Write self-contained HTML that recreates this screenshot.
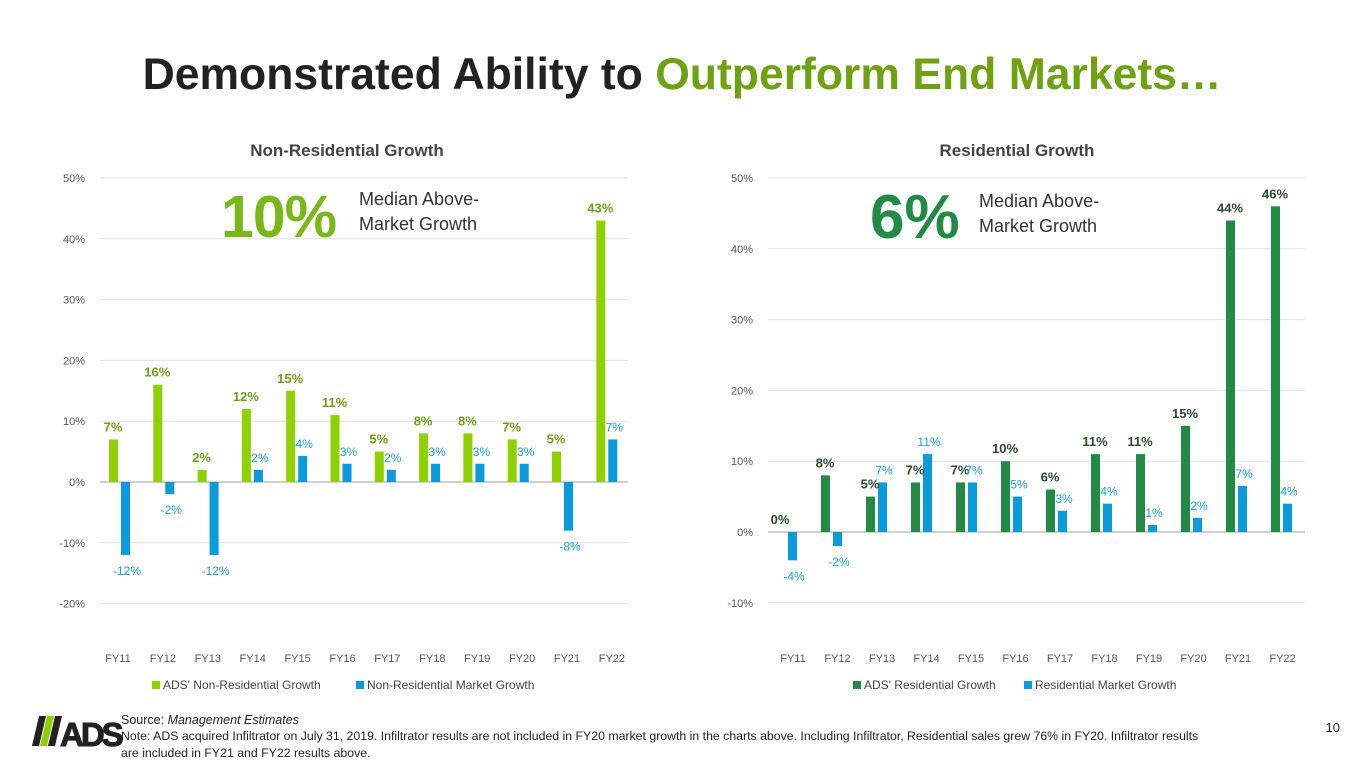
<!DOCTYPE html>
<html><head><meta charset="utf-8"><style>
body{margin:0;width:1365px;height:768px;background:#fff;font-family:"Liberation Sans",sans-serif;overflow:hidden;position:relative}
svg{position:absolute;left:0;top:0}
</style></head><body>
<svg id="s" width="1365" height="768">
<text x="682" y="89" text-anchor="middle" font-size="44.5" font-weight="bold" fill="#222">Demonstrated Ability to <tspan fill="#6ea212">Outperform End Markets…</tspan></text>
<text x="347" y="156" text-anchor="middle" font-size="17" font-weight="bold" fill="#444">Non-Residential Growth</text>
<text x="1017" y="156" text-anchor="middle" font-size="17" font-weight="bold" fill="#444">Residential Growth</text>
<text x="221" y="237" font-size="59" font-weight="bold" fill="#7bb61a" letter-spacing="-1">10%</text>
<text x="359" y="205" font-size="18" fill="#333">Median Above-</text>
<text x="359" y="230" font-size="18" fill="#333">Market Growth</text>
<text x="870" y="238" font-size="62" font-weight="bold" fill="#228a44">6%</text>
<text x="979" y="207" font-size="18" fill="#333">Median Above-</text>
<text x="979" y="232" font-size="18" fill="#333">Market Growth</text>
<g>
<polygon points="32,746 39,746 46,716 39,716" fill="#222"/><polygon points="40,746 47,746 54,716 47,716" fill="#8fce00"/><polygon points="48,746 55,746 62,716 55,716" fill="#222"/>
<text x="60" y="746" font-size="33" font-weight="bold" fill="#222" letter-spacing="-3" stroke="#222" stroke-width="1">ADS</text></g>
<text x="121" y="724" font-size="12.5" fill="#222">Source: <tspan font-style="italic">Management Estimates</tspan></text>
<text x="121" y="740" font-size="12.3" fill="#222">Note: ADS acquired Infiltrator on July 31, 2019. Infiltrator results are not included in FY20 market growth in the charts above. Including Infiltrator, Residential sales grew 76% in FY20. Infiltrator results</text>
<text x="121" y="757" font-size="12.3" fill="#222">are included in FY21 and FY22 results above.</text>
<text x="1340" y="732" text-anchor="end" font-size="13" fill="#222">10</text>
</svg>
<script>
const categories=["FY11","FY12","FY13","FY14","FY15","FY16","FY17","FY18","FY19","FY20","FY21","FY22"];
const nonResAds=[7,16,2,12,15,11,5,8,8,7,5,43];
const nonResMarket=[-12,-2,-12,2,4.3,3,2,3,3,3,-8,7];
const nonResTicks=[50,40,30,20,10,0,-10,-20];
const resAds=[0,8,5,7,7,10,6,11,11,15,44,46];
const resMarket=[-4,-2,7,11,7,5,3,4,1,2,6.5,4];
const resTicks=[50,40,30,20,10,0,-10];
const NS='http://www.w3.org/2000/svg';
const svg=document.getElementById('s');
function mk(t,a,txt){const e=document.createElementNS(NS,t);for(const k in a)e.setAttribute(k,a[k]);if(txt!=null)e.textContent=txt;svg.appendChild(e);return e;}
function chart(o){
  const y=v=>o.y0-v*o.ppu;
  o.ticks.forEach(t=>{
    const l=mk('line',{x1:o.gx1,x2:o.gx2,y1:y(t),y2:y(t),stroke:t===0?'#d0d0d0':'#e2e2e2','stroke-width':t===0?2:1});
    
    
    const tx=mk('text',{x:o.gx1-15,y:y(t)+4,'text-anchor':'end','font-size':11,fill:'#555'},t+'%');
    
    
  });
  categories.forEach((c,i)=>{
    const g=o.g0+i*o.step;
    const tx=mk('text',{x:o.lx0+i*o.lstep,y:662,'text-anchor':'middle','font-size':11,fill:'#555'},c);
    
    
    const a=o.a[i],m=o.m[i];
    const r1=mk('rect',{x:g-11,width:9,y:Math.min(y(a),y(0)),height:Math.abs(a*o.ppu),fill:o.ca});
    
    
    const r2=mk('rect',{x:g+1,width:9,y:Math.min(y(m),y(0)),height:Math.abs(m*o.ppu),fill:'#0a9bdc'});
    
    
    const t1=mk('text',{x:g-7,y:(a>=0?y(a)-8:y(0)-8),'text-anchor':'middle','font-size':13,'font-weight':'bold',fill:o.cl},Math.round(a)+'%');
    
    
    const t2=mk('text',{x:g+7,y:(m>=0?y(m)-8:y(m)+20),'text-anchor':'middle','font-size':12,fill:'#1a9fdc'},Math.round(m)+'%');
    
    
  });
  const lg1=mk('rect',{x:o.lgx,y:681,width:8,height:8,fill:o.ca});
  
  
  const lt1=mk('text',{x:o.lgx+11,y:689,'font-size':12,fill:'#444'},o.n1);
  
  
  const lg2=mk('rect',{x:o.lgx2,y:681,width:8,height:8,fill:'#0a9bdc'});
  
  
  const lt2=mk('text',{x:o.lgx2+11,y:689,'font-size':12,fill:'#444'},o.n2);
  
  
}
chart({a:nonResAds,m:nonResMarket,ticks:nonResTicks,y0:482,ppu:6.08,gx1:100,gx2:628,g0:120,step:44.3,lx0:118,lstep:44.9,ca:'#8fd000',cl:'#6f9e1a',lgx:152,lgx2:356,n1:"ADS' Non-Residential Growth",n2:"Non-Residential Market Growth"});
chart({a:resAds,m:resMarket,ticks:resTicks,y0:532,ppu:7.08,gx1:768,gx2:1305,g0:787,step:45,lx0:793,lstep:44.5,ca:'#228a44',cl:'#2b4a30',lgx:853,lgx2:1024,n1:"ADS' Residential Growth",n2:"Residential Market Growth"});
</script>
</body></html>
